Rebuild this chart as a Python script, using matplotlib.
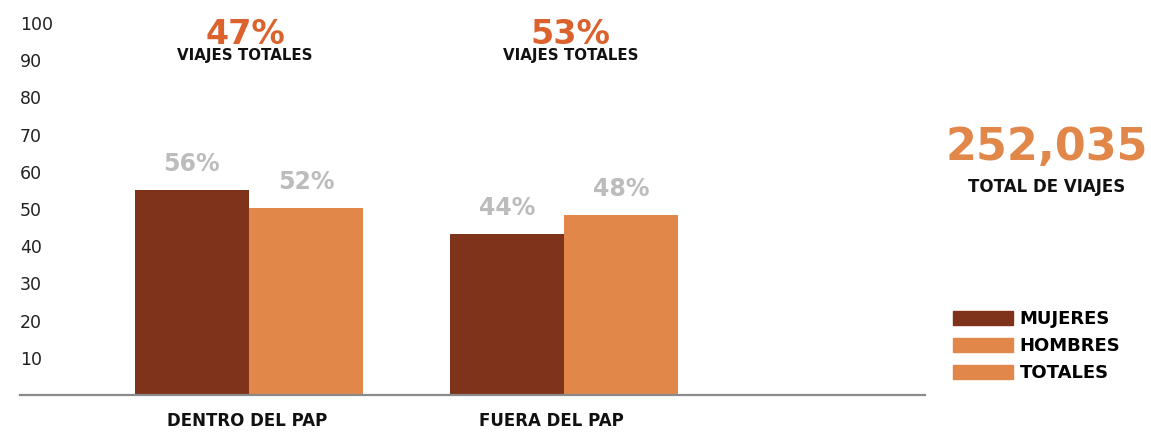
import matplotlib

matplotlib.use("Agg")

import matplotlib.pyplot as plt
from matplotlib.patches import Patch

plt.rcParams["font.family"] = ["DejaVu Sans"]

# data
categories = ["DENTRO DEL PAP", "FUERA DEL PAP"]
mujeres = [55.2, 43.4]
hombres = [50.4, 48.5]
mujeres_labels = ["56%", "44%"]
hombres_labels = ["52%", "48%"]
share_labels = ["47%", "53%"]
total_viajes = "252,035"
yticks = [10, 20, 30, 40, 50, 60, 70, 80, 90, 100]
legend_labels = ["MUJERES", "HOMBRES", "TOTALES"]

C_MUJ = "#7f331b"
C_HOM = "#e2874a"
C_TOT = "#e2874a"
C_GRAY = "#bcbcbc"
C_TITLE = "#db612d"

W, H = 1151, 433
fig = plt.figure(figsize=(W / 100, H / 100), dpi=100)
ax = fig.add_axes([20 / W, (H - 395) / H, 905 / W, 372 / H])

bw = 0.362
x = list(range(len(categories)))
b1 = ax.bar([i - bw / 2 for i in x], mujeres, width=bw, color=C_MUJ)
b2 = ax.bar([i + bw / 2 for i in x], hombres, width=bw, color=C_HOM)

for rect, lab in list(zip(b1, mujeres_labels)) + list(zip(b2, hombres_labels)):
    ax.annotate(lab, (rect.get_x() + rect.get_width() / 2, rect.get_height()),
                xytext=(0, 10), textcoords="offset points", ha="center", va="bottom",
                fontsize=17, fontweight="bold", color=C_GRAY)

ax.set_xlim(-0.727, 2.146)
ax.set_ylim(0, 100)
ax.set_yticks(yticks)
ax.set_yticklabels([str(t) for t in yticks], fontsize=12.5, color="#222222")
for lbl in ax.get_yticklabels():
    lbl.set_horizontalalignment("left")
ax.tick_params(axis="y", length=0, pad=0)
ax.set_xticks([-0.006, 0.96])
ax.set_xticklabels(categories, fontsize=12, fontweight="bold", color="#111111")
ax.tick_params(axis="x", length=0, pad=12)

for s in ["top", "right", "left"]:
    ax.spines[s].set_visible(False)
ax.spines["bottom"].set_color("#8a8a8a")
ax.spines["bottom"].set_linewidth(1.6)

# share of total trips above each group
share_x = [-0.012, 1.02]
for xs, s in zip(share_x, share_labels):
    ax.text(xs, 0.97, s, transform=ax.get_xaxis_transform(), ha="center", va="center",
            fontsize=24, fontweight="bold", color=C_TITLE)
    ax.text(xs, 0.912, "VIAJES TOTALES", transform=ax.get_xaxis_transform(), ha="center",
            va="center", fontsize=10.8, fontweight="bold", color="#111111")

fig.text(1047 / W, 1 - 147 / H, total_viajes, ha="center", va="center",
         fontsize=32, fontweight="bold", color=C_HOM)
fig.text(1047 / W, 1 - 187 / H, "TOTAL DE VIAJES", ha="center", va="center",
         fontsize=12, fontweight="semibold", color="#111111")

handles = [Patch(color=C_MUJ), Patch(color=C_HOM), Patch(color=C_TOT)]
fig.legend(handles, legend_labels, loc="upper left", bbox_to_anchor=(953 / W, 1 - 310 / H),
           frameon=False, prop={"weight": "bold", "size": 13}, handlelength=3.3,
           handleheight=0.85, handletextpad=0.4, labelspacing=0.5, borderpad=0,
           borderaxespad=0)

fig.savefig("out.png", dpi=100)
